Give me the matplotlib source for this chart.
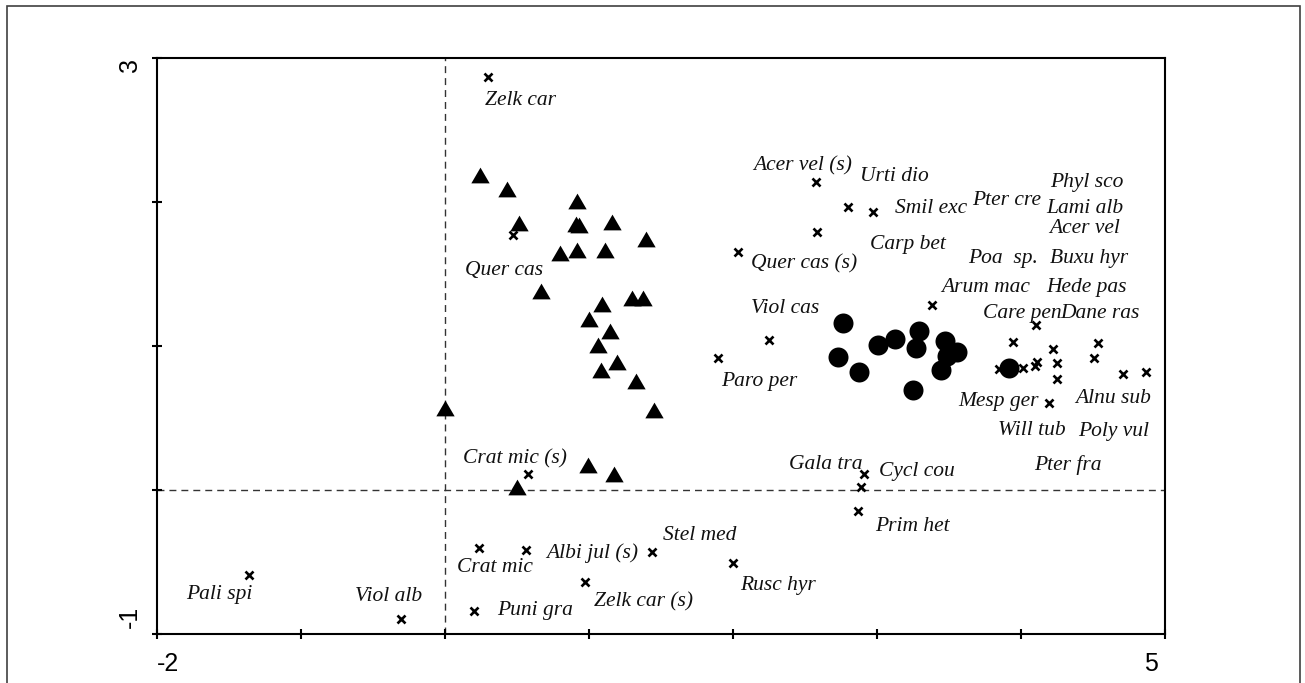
import matplotlib
matplotlib.use("Agg")
import matplotlib.pyplot as plt
import numpy as np
from matplotlib.path import Path
from matplotlib.patches import Rectangle
from matplotlib.transforms import ScaledTranslation

# ---- data (ordination scores) ----
tri_x = [0.243, 0.428, 0.915, 0.516, 0.910, 0.933, 1.158, 1.396, 0.799, 0.915,
         1.111, 0.665, 1.088, 1.297, 1.377, 1.002, 1.146, 1.060, 1.197, 1.083,
         1.326, 1.451, 0.000, 0.995, 1.176, 0.502]
tri_y = [2.184, 2.085, 2.003, 1.849, 1.844, 1.837, 1.860, 1.738, 1.644, 1.663,
         1.663, 1.378, 1.293, 1.332, 1.328, 1.189, 1.103, 1.008, 0.888, 0.835,
         0.756, 0.557, 0.568, 0.170, 0.113, 0.019]

circ_x = [2.762, 2.731, 2.877, 3.009, 3.125, 3.294, 3.271, 3.472, 3.553, 3.484,
          3.442, 3.252, 3.917]
circ_y = [1.158, 0.922, 0.818, 1.003, 1.050, 1.103, 0.981, 1.033, 0.957, 0.927,
          0.835, 0.696, 0.844]

sp_x = [0.296, 2.576, 2.801, 2.974, 2.585, 2.037, 2.250, 1.894, 3.384, 0.474,
        0.578, 0.236, 0.563, 1.438, 1.998, 0.972, 0.203, -1.359, -0.306, 2.910,
        2.889, 2.870, 4.104, 3.944, 4.222, 4.535, 4.507, 4.111, 4.097, 4.014,
        3.847, 4.250, 4.250, 4.708, 4.868, 4.194]
sp_y = [2.867, 2.138, 1.964, 1.925, 1.790, 1.651, 1.043, 0.915, 1.281, 1.767,
        0.113, -0.401, -0.420, -0.432, -0.508, -0.640, -0.837, -0.589, -0.894, 0.113,
        0.019, -0.147, 1.142, 1.024, 0.976, 1.017, 0.913, 0.885, 0.857, 0.844,
        0.837, 0.878, 0.767, 0.802, 0.816, 0.601]

labels = ["Zelk car", "Acer vel (s)", "Urti dio", "Smil exc", "Pter cre", "Phyl sco",
          "Lami alb", "Acer vel", "Poa  sp.", "Buxu hyr", "Arum mac", "Hede pas",
          "Care pen", "Dane ras", "Carp bet", "Quer cas (s)", "Viol cas", "Paro per",
          "Mesp ger", "Alnu sub", "Will tub", "Poly vul", "Pter fra", "Gala tra",
          "Cycl cou", "Prim het", "Quer cas", "Crat mic (s)", "Crat mic", "Albi jul (s)",
          "Stel med", "Zelk car (s)", "Puni gra", "Rusc hyr", "Pali spi", "Viol alb"]
# label anchor (left, baseline) in data units
lab_x = [0.278, 2.137, 2.882, 3.125, 3.658, 4.201, 4.178, 4.194, 3.632, 4.201,
         3.449, 4.178, 3.736, 4.271, 2.951, 2.123, 2.123, 1.915, 3.5625, 4.375,
         3.838, 4.394, 4.090, 2.391, 3.016, 2.986, 0.139, 0.123, 0.081, 0.701,
         1.512, 1.035, 0.359, 2.049, -1.799, -0.625]
lab_y = [2.670, 2.215, 2.146, 1.924, 1.979, 2.104, 1.920, 1.781, 1.576, 1.576,
         1.375, 1.375, 1.191, 1.191, 1.670, 1.538, 1.229, 0.722, 0.580, 0.604,
         0.378, 0.372, 0.135, 0.142, 0.094, -0.285, 1.490, 0.182, -0.571, -0.472,
         -0.351, -0.806, -0.868, -0.694, -0.760, -0.772]

xticks = [-2, -1, 0, 1, 2, 3, 4, 5]
yticks = [-1, 0, 1, 2, 3]

# ---- figure ----
W, H = 1305, 683
fig = plt.figure(figsize=(W / 100, H / 100), dpi=100)
ax = fig.add_axes([157 / W, 1 - 634 / H, (1165 - 157) / W, (634 - 57.5) / H])

ax.set_xlim(-2, 5)
ax.set_ylim(-1, 3)

ax.axvline(0, color="#333333", lw=1.0, dashes=(5, 3.6), zorder=1)
ax.axhline(0, color="#333333", lw=1.0, dashes=(5, 3.6), zorder=1)

# flattened triangle marker
tri_path = Path([(0, 0.86), (-1, -0.86), (1, -0.86), (0, 0.86)],
                [Path.MOVETO, Path.LINETO, Path.LINETO, Path.CLOSEPOLY])
ax.plot(tri_x, tri_y, linestyle="none", marker=tri_path, markersize=13.2,
        color="black", markeredgewidth=0, zorder=3)
ax.plot(circ_x, circ_y, linestyle="none", marker="o", markersize=14.4,
        color="black", markeredgewidth=0, zorder=3)
ax.plot(sp_x, sp_y, linestyle="none", marker="x", markersize=5.2,
        color="black", markeredgewidth=1.9, zorder=4)

for t, x, y in zip(labels, lab_x, lab_y):
    ax.text(x, y, t, family="Liberation Serif", style="italic", fontsize=15.5,
            ha="left", va="baseline", color="#111111", zorder=5)

for s in ax.spines.values():
    s.set_linewidth(1.5)
    s.set_color("black")

ax.set_xticks(xticks)
ax.set_yticks(yticks)
ax.set_xticklabels([str(v) if v in (-2, 5) else "" for v in xticks])
ax.set_yticklabels([str(v) if v in (-1, 3) else "" for v in yticks],
                   rotation=90)
ax.tick_params(direction="inout", length=7.5, width=1.5, color="black")
ax.tick_params(axis="x", pad=9)
ax.tick_params(axis="y", pad=7)
for lab in ax.get_xticklabels() + ax.get_yticklabels():
    lab.set_family("Liberation Sans")
    lab.set_fontsize(18)
xl = ax.get_xticklabels()
xl[0].set_ha("left")
xl[-1].set_ha("right")
xl[-1].set_transform(xl[-1].get_transform() +
                     ScaledTranslation(-7 / 100, 0, fig.dpi_scale_trans))
yl = ax.get_yticklabels()
yl[0].set_va("bottom")
yl[0].set_transform(yl[0].get_transform() +
                    ScaledTranslation(0, 6 / 100, fig.dpi_scale_trans))
yl[-1].set_va("top")

fig.patches.append(Rectangle((7 / W, -0.05), (1300 - 7) / W, 1 - 6 / H + 0.05,
                             transform=fig.transFigure, fill=False,
                             edgecolor="#404040", lw=1.2, clip_on=False))

fig.savefig("out.png", dpi=100)
